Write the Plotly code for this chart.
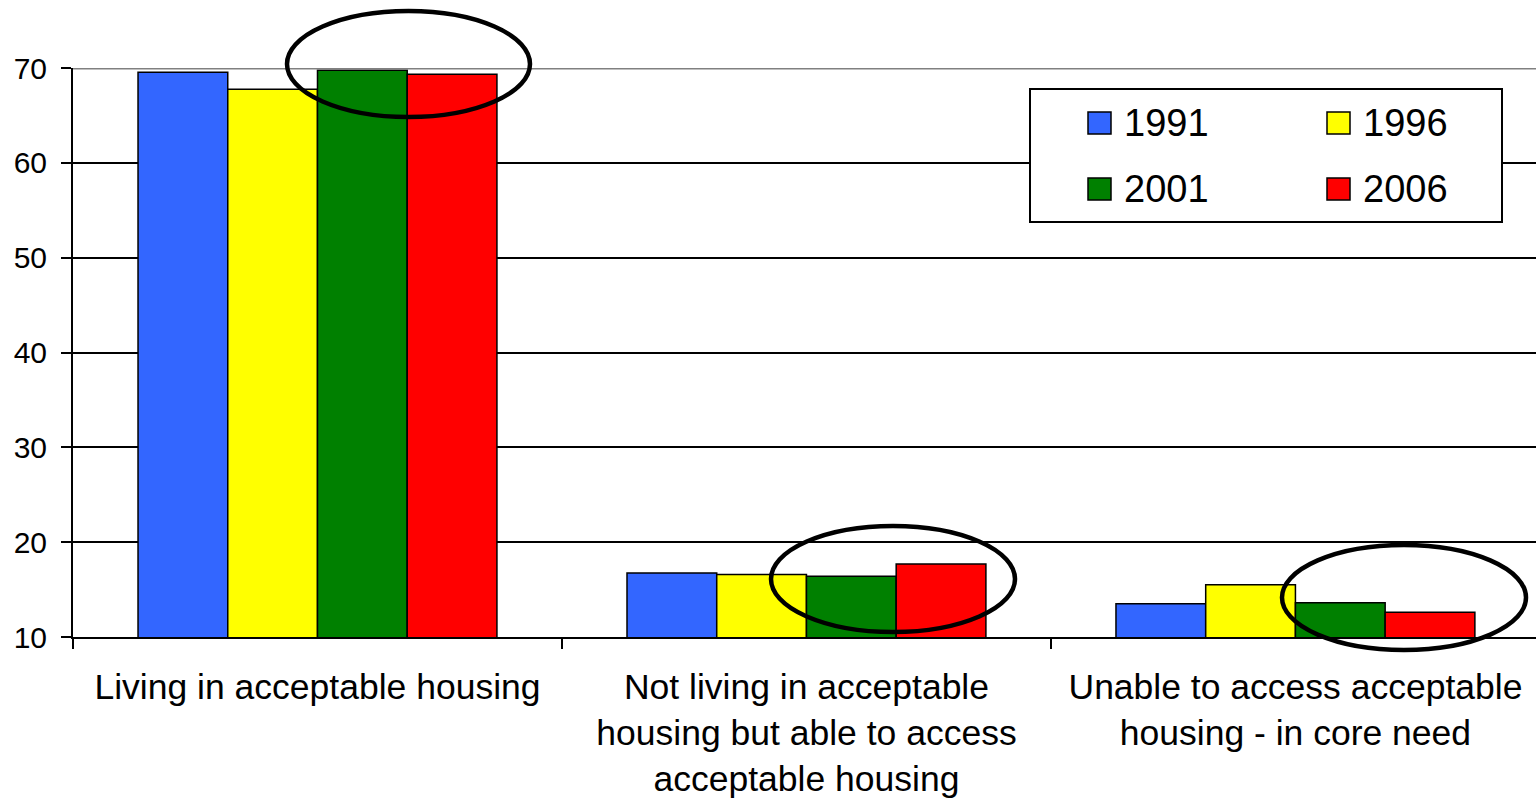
import plotly.graph_objects as go

categories = ["Living in acceptable housing",
              "Not living in acceptable<br>housing but able to access<br>acceptable housing",
              "Unable to access acceptable<br>housing - in core need"]
years = ["1991", "1996", "2001", "2006"]
v1991 = [69.55, 16.75, 13.5]
v1996 = [67.75, 16.6, 15.5]
v2001 = [69.75, 16.4, 13.6]
v2006 = [69.35, 17.7, 12.6]
series = [v1991, v1996, v2001, v2006]
colors = ["#3366FF", "#FFFF00", "#008000", "#FF0000"]
yticks = [10, 20, 30, 40, 50, 60, 70]

FONT = "Arial, Liberation Sans, sans-serif"
W, H = 1536, 800
ML, MR, MT, MB = 73, 0, 68, 163
PW, PH = W - ML - MR, H - MT - MB


def px(x):
    return (x - ML) / PW


def py(y):
    return (H - MB - y) / PH


fig = go.Figure()
for name, vals, col in zip(years, series, colors):
    fig.add_trace(go.Bar(x=categories, y=vals, name=name,
                         marker=dict(color=col, line=dict(color="black", width=1.5)),
                         showlegend=False))

shapes = []
# gray top border line at 70
shapes.append(dict(type="line", xref="paper", yref="y", x0=0, x1=1, y0=70, y1=70,
                   line=dict(color="#808080", width=3), layer="above"))
# ellipses
for (x0, x1, y0, y1) in [(287, 530, 11, 117), (771, 1015, 526, 632), (1282, 1526, 545, 650)]:
    shapes.append(dict(type="circle", xref="paper", yref="paper",
                       x0=px(x0), x1=px(x1), y0=py(y1), y1=py(y0),
                       line=dict(color="black", width=4.5), layer="above"))
# legend box
shapes.append(dict(type="rect", xref="paper", yref="paper",
                   x0=px(1030), x1=px(1502), y0=py(222), y1=py(89),
                   line=dict(color="black", width=2), fillcolor="white", layer="above"))
annotations = []
legend_pos = [(1088, 112), (1327, 112), (1088, 178), (1327, 178)]
for (lx, ly), name, col in zip(legend_pos, years, colors):
    shapes.append(dict(type="rect", xref="paper", yref="paper",
                       x0=px(lx), x1=px(lx + 23), y0=py(ly + 22), y1=py(ly),
                       line=dict(color="black", width=1.5), fillcolor=col, layer="above"))
    annotations.append(dict(xref="paper", yref="paper", x=px(lx + 34), y=py(ly + 11),
                            text=name, showarrow=False, xanchor="left", yanchor="middle",
                            font=dict(family=FONT, size=38, color="black")))

fig.update_layout(
    width=W, height=H,
    margin=dict(l=ML, r=MR, t=MT, b=MB, pad=0, autoexpand=False),
    paper_bgcolor="white", plot_bgcolor="white",
    barmode="group", bargap=0.266, bargroupgap=0,
    shapes=shapes, annotations=annotations,
    font=dict(family=FONT, color="black"),
)
fig.update_xaxes(
    range=[-0.5, 2.492], showline=True, linecolor="black", linewidth=2,
    ticks="outside", tickson="boundaries", ticklen=10, tickwidth=2, tickcolor="black",
    tickfont=dict(family=FONT, size=35.5, color="black"), ticklabelstandoff=17,
    showgrid=False, automargin=False,
)
fig.update_yaxes(
    range=[10, 70], tickvals=yticks, showline=True, linecolor="black", linewidth=2,
    ticks="outside", ticklen=10, tickwidth=2, tickcolor="black",
    tickfont=dict(family=FONT, size=30, color="black"), ticklabelstandoff=8,
    showgrid=True, gridcolor="black", gridwidth=1.5, zeroline=False, automargin=False,
)

fig.write_html("out.html")
